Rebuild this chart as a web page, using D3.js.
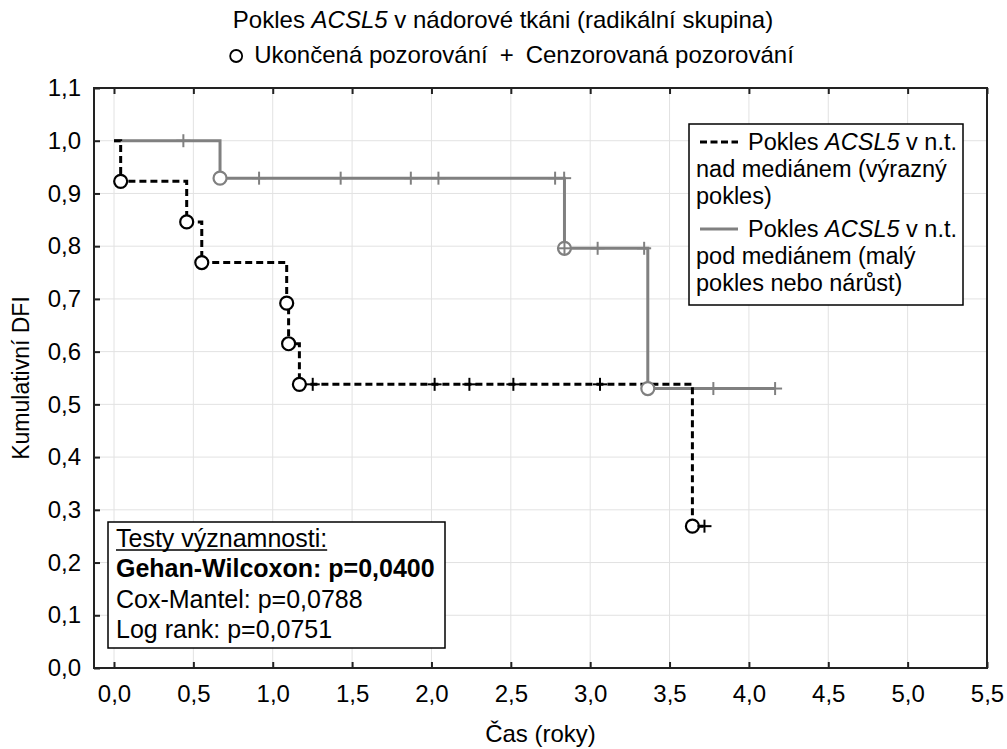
<!DOCTYPE html>
<html>
<head>
<meta charset="utf-8">
<script src="https://cdn.jsdelivr.net/npm/d3@7"></script>
<style>
  body { margin: 0; background: #fff; }
  svg text { font-family: "Liberation Sans", Arial, sans-serif; fill: #000; }
</style>
</head>
<body>
<svg id="chart" width="1007" height="749"></svg>
<script>
// skupina nad mediánem (černá, čárkovaná): [čas, DFI]
var aboveEvents = [[0.042, 0.923], [0.458, 0.846], [0.553, 0.769], [1.088, 0.692], [1.100, 0.615], [1.168, 0.538], [3.644, 0.269]];
var aboveCensored = [[1.252, 0.538], [2.020, 0.538], [2.239, 0.538], [2.516, 0.538], [3.062, 0.538], [3.720, 0.269]];
// skupina pod mediánem (šedá, plná)
var belowEvents = [[0.668, 0.929], [2.838, 0.796], [3.363, 0.530]];
var belowCensored = [[0.437, 1.0], [0.914, 0.929], [1.428, 0.929], [1.870, 0.929], [2.044, 0.929], [2.779, 0.929], [2.836, 0.929],
                     [2.838, 0.796], [3.047, 0.796], [3.340, 0.796], [3.776, 0.530], [4.165, 0.530]];

var xTicks = [0, 0.5, 1, 1.5, 2, 2.5, 3, 3.5, 4, 4.5, 5, 5.5];
var yTicks = [0, 0.1, 0.2, 0.3, 0.4, 0.5, 0.6, 0.7, 0.8, 0.9, 1.0, 1.1];
var legendLabels = [["Pokles ", "ACSL5", " v n.t.", "nad mediánem (výrazný", "pokles)"],
                    ["Pokles ", "ACSL5", " v n.t.", "pod mediánem (malý", "pokles nebo nárůst)"]];
var testLines = ["Testy významnosti:", "Gehan-Wilcoxon: p=0,0400", "Cox-Mantel: p=0,0788", "Log rank: p=0,0751"];

var fmt = function (d) { return d3.format(".1f")(d).replace(".", ","); };

var svg = d3.select("#chart");
var pLeft = 94, pRight = 987, pTop = 88, pBottom = 668;
var x = d3.scaleLinear().domain([0, 5.5]).range([114, 987]);
var y = d3.scaleLinear().domain([0, 1.1]).range([pBottom, pTop]);
var FS = 24;

// mřížka
svg.append("g").selectAll("line").data(xTicks.filter(function (d) { return d < 5.5; }))
    .enter().append("line")
    .attr("x1", function (d) { return x(d); }).attr("x2", function (d) { return x(d); })
    .attr("y1", pTop).attr("y2", pBottom)
    .attr("stroke", "#e2e2e2").attr("stroke-width", 1);
svg.append("g").selectAll("line").data(yTicks.filter(function (d) { return d > 0 && d < 1.1; }))
    .enter().append("line")
    .attr("x1", pLeft).attr("x2", pRight)
    .attr("y1", function (d) { return y(d); }).attr("y2", function (d) { return y(d); })
    .attr("stroke", "#e2e2e2").attr("stroke-width", 1);

// osy
var xAxis = svg.append("g").attr("transform", "translate(0," + pBottom + ")")
    .call(d3.axisBottom(x).tickValues(xTicks).tickSizeInner(-6).tickSizeOuter(0).tickPadding(17).tickFormat(fmt));
var yAxis = svg.append("g").attr("transform", "translate(" + pLeft + ",0)")
    .call(d3.axisLeft(y).tickValues(yTicks).tickSizeInner(-6).tickSizeOuter(0).tickPadding(13).tickFormat(fmt));
var topAxis = svg.append("g").attr("transform", "translate(0," + pTop + ")")
    .call(d3.axisTop(x).tickValues(xTicks).tickSizeInner(-6).tickSizeOuter(0).tickFormat(""));
[xAxis, yAxis, topAxis].forEach(function (g) {
    g.select(".domain").remove();
    g.selectAll("line").attr("stroke", "#222").attr("stroke-width", 2);
    g.selectAll("text").style("font-size", FS + "px").attr("fill", "#000");
});
svg.append("rect").attr("x", pLeft).attr("y", pTop).attr("width", pRight - pLeft).attr("height", pBottom - pTop)
    .attr("fill", "none").attr("stroke", "#222").attr("stroke-width", 2);

// křivky
var line = d3.line().x(function (d) { return x(d[0]); }).y(function (d) { return y(d[1]); }).curve(d3.curveStepAfter);
function stepPoints(events, censored) {
    var pts = [[0, 1.0]].concat(events);
    var last = d3.max(events.concat(censored), function (d) { return d[0]; });
    pts.push([last, events[events.length - 1][1]]);
    return pts;
}
var groups = [
    { ev: belowEvents, cen: belowCensored, color: "#808080", dash: null },
    { ev: aboveEvents, cen: aboveCensored, color: "#000", dash: "7,4" }
];
groups.forEach(function (g) {
    svg.append("path").datum(stepPoints(g.ev, g.cen)).attr("d", line)
        .attr("fill", "none").attr("stroke", g.color).attr("stroke-width", 3)
        .attr("stroke-dasharray", g.dash);
});
groups.forEach(function (g) {
    svg.append("g").selectAll("circle").data(g.ev).enter().append("circle")
        .attr("cx", function (d) { return x(d[0]); }).attr("cy", function (d) { return y(d[1]); })
        .attr("r", 6.5).attr("fill", "#fff").attr("stroke", g.color).attr("stroke-width", 2.2);
    var c = svg.append("g").selectAll("g").data(g.cen).enter().append("g")
        .attr("transform", function (d) { return "translate(" + x(d[0]) + "," + y(d[1]) + ")"; });
    c.append("line").attr("x1", -7).attr("x2", 7).attr("y1", 0).attr("y2", 0)
        .attr("stroke", g.color).attr("stroke-width", 2);
    c.append("line").attr("x1", 0).attr("x2", 0).attr("y1", -6.5).attr("y2", 6.5)
        .attr("stroke", g.color).attr("stroke-width", 2);
});

// nadpis
var t1 = svg.append("text").attr("x", 503).attr("y", 28).attr("text-anchor", "middle").style("font-size", FS + "px");
t1.append("tspan").text("Pokles ");
t1.append("tspan").attr("font-style", "italic").text("ACSL5");
t1.append("tspan").text(" v nádorové tkáni (radikální skupina)");

var sub = svg.append("g");
var sc = sub.append("circle").attr("cy", 56).attr("r", 6).attr("fill", "none").attr("stroke", "#000").attr("stroke-width", 1.8);
var s1 = sub.append("text").attr("y", 63).style("font-size", FS + "px").text("Ukončená pozorování");
var s2 = sub.append("text").attr("y", 63).style("font-size", FS + "px").text("+");
var s3 = sub.append("text").attr("y", 63).style("font-size", FS + "px").text("Cenzorovaná pozorování");
var w1 = s1.node().getComputedTextLength(), w2 = s2.node().getComputedTextLength(), w3 = s3.node().getComputedTextLength();
var total = 12 + 12 + w1 + 12 + w2 + 12 + w3;
var sx = 512 - total / 2;
sc.attr("cx", sx + 6);
s1.attr("x", sx + 24);
s2.attr("x", sx + 24 + w1 + 12);
s3.attr("x", sx + 24 + w1 + 12 + w2 + 12);

svg.append("text").attr("x", (pLeft + pRight) / 2).attr("y", 742).attr("text-anchor", "middle")
    .style("font-size", FS + "px").text("Čas (roky)");
svg.append("text").attr("transform", "translate(29," + ((pTop + pBottom) / 2) + ") rotate(-90)")
    .attr("text-anchor", "middle").style("font-size", "23px").text("Kumulativní DFI");

// legenda
var lg = svg.append("g");
lg.append("rect").attr("x", 689).attr("y", 124).attr("width", 274).attr("height", 181)
    .attr("fill", "#fff").attr("stroke", "#000").attr("stroke-width", 1.5);
legendLabels.forEach(function (lab, i) {
    var base = 150 + i * 87;
    var g = groups[1 - i];
    lg.append("line").attr("x1", 700).attr("x2", 738).attr("y1", base - 8).attr("y2", base - 8)
        .attr("stroke", g.color).attr("stroke-width", 3).attr("stroke-dasharray", g.dash ? "7,3.5" : null);
    var t = lg.append("text").attr("x", 748).attr("y", base).style("font-size", "23.5px");
    t.append("tspan").text(lab[0]);
    t.append("tspan").attr("font-style", "italic").text(lab[1]);
    t.append("tspan").text(lab[2]);
    lg.append("text").attr("x", 696).attr("y", base + 27).style("font-size", "23.5px").text(lab[3]);
    lg.append("text").attr("x", 696).attr("y", base + 54).style("font-size", "23.5px").text(lab[4]);
});

// testy významnosti
var sb = svg.append("g");
sb.append("rect").attr("x", 108).attr("y", 522).attr("width", 337).attr("height", 126)
    .attr("fill", "#fff").attr("stroke", "#000").attr("stroke-width", 1.5);
var baselines = [547, 577, 608, 638];
testLines.forEach(function (s, i) {
    var t = sb.append("text").attr("x", 116).attr("y", baselines[i]).style("font-size", "25px")
        .attr("font-weight", i === 1 ? "bold" : null).text(s);
    if (i === 0) {
        var w = t.node().getComputedTextLength();
        sb.append("line").attr("x1", 116).attr("x2", 116 + w).attr("y1", baselines[i] + 3).attr("y2", baselines[i] + 3)
            .attr("stroke", "#000").attr("stroke-width", 1.3);
    }
});
</script>
</body>
</html>
